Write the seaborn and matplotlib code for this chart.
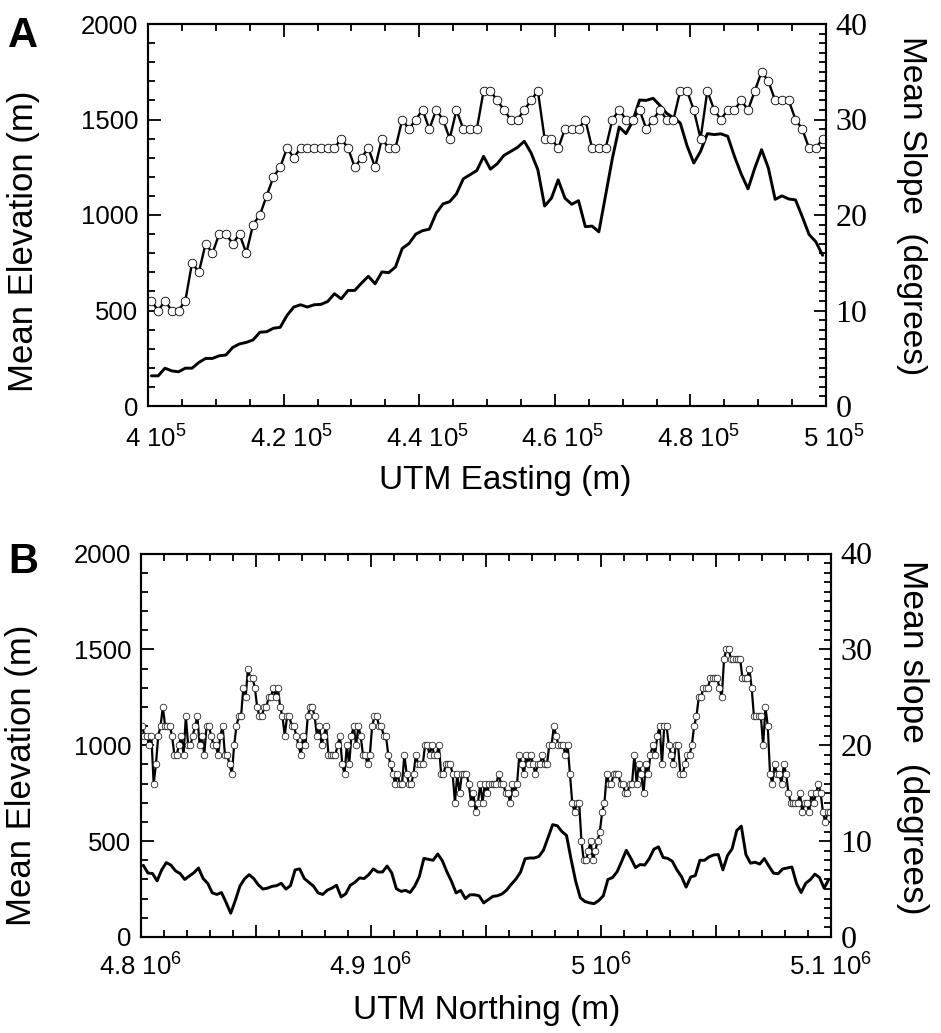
import numpy as np
import matplotlib
matplotlib.use("Agg")
import matplotlib.pyplot as plt
from matplotlib.ticker import MultipleLocator, FuncFormatter
from matplotlib.transforms import ScaledTranslation
import seaborn as sns

# ---- panel A : profile along UTM easting (1 km bins) ----
easting_a = np.arange(400500, 500000, 1000)
slope_a = [11, 10, 11, 10, 10, 11, 15, 14, 17, 16,
           18, 18, 17, 18, 16, 19, 20, 22, 24, 25,
           27, 26, 27, 27, 27, 27, 27, 27, 28, 27,
           25, 26, 27, 25, 28, 27, 27, 30, 29, 30,
           31, 29, 31, 30, 28, 31, 29, 29, 29, 33,
           33, 32, 31, 30, 30, 31, 32, 33, 28, 28,
           27, 29, 29, 29, 30, 27, 27, 27, 30, 31,
           30, 30, 31, 29, 30, 31, 30, 30, 33, 33,
           31, 28, 33, 31, 30, 31, 31, 32, 31, 33,
           35, 34, 32, 32, 32, 30, 29, 27, 27, 28]
elev_a = [158, 158, 198, 184, 179, 198, 198, 228, 249, 249,
          263, 267, 307, 325, 333, 346, 386, 389, 407, 412,
          474, 518, 530, 518, 530, 532, 547, 588, 561, 605,
          605, 644, 679, 640, 702, 698, 728, 825, 851, 900,
          918, 926, 1009, 1058, 1070, 1111, 1189, 1211, 1233, 1307,
          1240, 1268, 1312, 1333, 1354, 1386, 1325, 1237, 1047, 1088,
          1184, 1088, 1056, 1075, 939, 942, 912, 1105, 1298, 1461,
          1426, 1491, 1602, 1600, 1611, 1574, 1532, 1509, 1482, 1363,
          1272, 1333, 1426, 1421, 1425, 1412, 1307, 1214, 1137, 1246,
          1342, 1246, 1082, 1100, 1084, 1079, 991, 898, 860, 789]

# ---- panel B : profile along UTM northing ----
northing_b = np.arange(4800500, 5100000, 1000)
slope_b = [22, 21, 21, 20, 21, 16, 18, 21, 22, 24,
           22, 22, 22, 21, 19, 19, 20, 21, 19, 23,
           20, 20, 21, 22, 23, 20, 21, 19, 22, 22,
           21, 20, 20, 19, 21, 22, 19, 19, 18, 17,
           20, 22, 23, 23, 26, 25, 28, 27, 27, 26,
           24, 23, 23, 24, 24, 25, 25, 26, 25, 26,
           24, 23,
           21, 23, 23, 22, 22, 21, 20, 19, 21, 20,
           23, 24, 24, 23, 21, 22, 20, 21, 22, 19,
           19, 19, 19, 20, 21, 18, 17, 20, 18, 21,
           22, 20, 22, 21, 19, 19, 18, 19, 22, 23,
           23, 22, 22, 21, 21, 19, 18, 17, 16, 17,
           16, 16, 19, 17, 16, 16, 17, 19, 18, 18,
           18, 20,
           20, 19, 20, 19, 19, 20, 17, 17, 18, 18,
           18, 17, 14, 17, 15, 17, 17, 17, 16, 14,
           15, 13, 14, 16, 14, 16, 15, 16, 16, 16,
           16, 17, 16, 16, 15, 15, 14, 16, 15, 16,
           19, 18, 17, 19, 18, 19, 18, 17, 18, 18,
           19, 18, 18, 20, 20, 22, 21, 20, 20, 20,
           19, 20,
           17, 14, 13, 14, 14, 10, 8, 8, 9, 10,
           8, 9, 10, 11, 13, 14, 17, 16, 16, 17,
           17, 17, 16, 16, 15, 15, 16, 16, 19, 16,
           18, 17, 15, 18, 17, 19, 20, 19, 21, 22,
           18, 22, 22, 20, 19, 18, 20, 20, 17, 17,
           18, 19, 19, 20, 22, 23, 25, 25, 26, 26,
           26, 27, 27, 27, 27, 26, 25, 29, 30, 30,
           29, 29, 29, 29, 29, 27, 27, 27, 28, 26,
           23, 23, 23, 23, 20, 24, 22, 17, 16, 18,
           17, 17, 16, 18, 17, 15, 14, 14, 14, 14,
           15, 13, 14, 14, 13, 15, 14, 15, 16, 15,
           13, 12, 13, 13]
northing_b_elev = np.arange(4801000, 5100000, 2000)
elev_b = [374, 334, 331, 293, 350, 388, 375, 345, 331, 300,
          318, 335, 360, 305, 280, 230, 222, 232, 180, 124,
          190, 265, 303, 325, 305, 272, 250, 255, 264, 268,
          280,
          250, 268, 350, 355, 305, 285, 265, 230, 222, 244,
          255, 270, 209, 225, 270, 285, 308, 305, 325, 355,
          339, 339, 370, 335, 252, 238, 243, 232, 265, 315,
          410,
          405, 400, 433, 398, 340, 290, 230, 243, 200, 220,
          220, 215, 178, 195, 212, 215, 225, 245, 275, 302,
          338, 408, 412, 412, 420, 453, 520, 586, 580, 550,
          530, 405, 290, 205, 185, 178, 174, 190, 215, 300,
          310, 340, 395, 452, 410, 362, 378, 375, 409, 458,
          470, 415, 410, 395, 350, 315, 260, 313, 320, 400,
          400, 418, 428, 430, 350, 425, 460, 555, 578, 430,
          385, 390, 380, 409, 370, 333, 330, 355, 360, 365,
          280, 232, 280, 299, 328, 310, 255, 300]

sns.set_style("ticks")
plt.rcParams['font.family'] = ['Liberation Sans', 'DejaVu Sans']
plt.rcParams['mathtext.fontset'] = 'custom'
plt.rcParams['mathtext.rm'] = 'Liberation Sans'
plt.rcParams['mathtext.default'] = 'regular'
plt.rcParams['axes.linewidth'] = 1.5
for key in ['axes.edgecolor', 'text.color', 'axes.labelcolor',
            'xtick.color', 'ytick.color']:
    plt.rcParams[key] = 'black'

W, H = 941, 1033
fig = plt.figure(figsize=(W / 100, H / 100), dpi=100)


def sci_label(power):
    def fmt(v, pos):
        m = v / 10 ** power
        if abs(m * 10 - round(m * 10)) > 1e-6:
            return ''
        return f"{m:g} 10$^{{{power}}}$"
    return FuncFormatter(fmt)


def make_axes(box):
    l, t, r, b = box
    ax = fig.add_axes([l / W, 1 - b / H, (r - l) / W, (b - t) / H])
    ax2 = ax.twinx()
    return ax, ax2


def style_panel(ax, ax2, box, x_lo, x_hi, x_major, x_minor, power, xpad,
                letter, letter_base, xlabel, slope_label, slope_size, lab_pos):
    l, t, r, b = box
    ax.set_xlim(x_lo, x_hi)
    ax.set_ylim(0, 2000)
    ax2.set_ylim(0, 40)

    ax.xaxis.set_major_locator(MultipleLocator(x_major))
    ax.xaxis.set_minor_locator(MultipleLocator(x_minor))
    ax.xaxis.set_major_formatter(sci_label(power))
    ax.yaxis.set_major_locator(MultipleLocator(500))
    ax.yaxis.set_minor_locator(MultipleLocator(100))
    ax2.yaxis.set_major_locator(MultipleLocator(10))
    ax2.yaxis.set_minor_locator(MultipleLocator(1))

    ax.tick_params(axis='both', which='both', direction='in', width=1.3,
                   top=True, bottom=True, left=True, right=False,
                   labelsize=18.5, pad=7)
    ax.tick_params(axis='x', pad=xpad)
    ax.tick_params(which='major', length=9)
    ax.tick_params(which='minor', length=5)
    ax2.tick_params(axis='y', which='both', direction='in', width=1.3,
                    left=False, right=True, labelsize=23, pad=7,
                    labelfontfamily='Liberation Serif')
    ax2.tick_params(axis='y', which='major', length=9)
    ax2.tick_params(axis='y', which='minor', length=5)

    ax.set_xlabel(xlabel, fontsize=24)
    ax.set_ylabel('Mean Elevation (m)', fontsize=25)
    ax2.set_ylabel(slope_label, fontsize=slope_size, rotation=270)
    for lab in (ax.xaxis.label, ax.yaxis.label, ax2.yaxis.label):
        lab.set_horizontalalignment('center')
        lab.set_verticalalignment('center')
        lab.set_rotation_mode('anchor')
    (xl_x, xl_y), (yl_x, yl_y), (yr_x, yr_y) = lab_pos
    w, h = r - l, b - t
    ax.xaxis.set_label_coords((xl_x - l) / w, (b - xl_y) / h)
    ax.yaxis.set_label_coords((yl_x - l) / w, (b - yl_y) / h)
    ax2.yaxis.set_label_coords((yr_x - l) / w, (b - yr_y) / h)

    fig.text(8 / W, 1 - letter_base / H, letter, fontsize=30,
             fontweight='bold', ha='left', va='baseline')


# panel A
boxA = (148, 24, 826, 406)
axA, axA2 = make_axes(boxA)
sns.lineplot(x=easting_a, y=elev_a, ax=axA, color='black', lw=2.1)
sns.lineplot(x=easting_a, y=slope_a, ax=axA2, color='black', lw=1.7,
             marker='o', markersize=6.2, markerfacecolor='white',
             markeredgecolor='black', markeredgewidth=0.6)
style_panel(axA, axA2, boxA, 400000, 500000, 20000, 5000, 5, 14,
            'A', 47, 'UTM Easting (m)', 'Mean Slope  (degrees)', 24,
            ((505, 481), (23, 241), (912, 206)))

# panel B
boxB = (141, 553.5, 831, 937)
axB, axB2 = make_axes(boxB)
sns.lineplot(x=northing_b_elev, y=elev_b, ax=axB, color='black', lw=2.1)
sns.lineplot(x=northing_b, y=slope_b, ax=axB2, color='black', lw=1.6,
             marker='o', markersize=4.8, markerfacecolor='white',
             markeredgecolor='black', markeredgewidth=0.5)
style_panel(axB, axB2, boxB, 4800000, 5100000, 50000, 10000, 6, 11.5,
            'B', 573, 'UTM Northing (m)', 'Mean slope  (degrees)', 25.5,
            ((487, 1010), (22, 775), (913, 737)))

# panel A tick labels sit a little to the right of their ticks
fig.canvas.draw()
shift = ScaledTranslation(8 / 100, 0, fig.dpi_scale_trans)
for lab in axA.get_xticklabels():
    lab.set_transform(lab.get_transform() + shift)

fig.savefig('out.png', dpi=100)
